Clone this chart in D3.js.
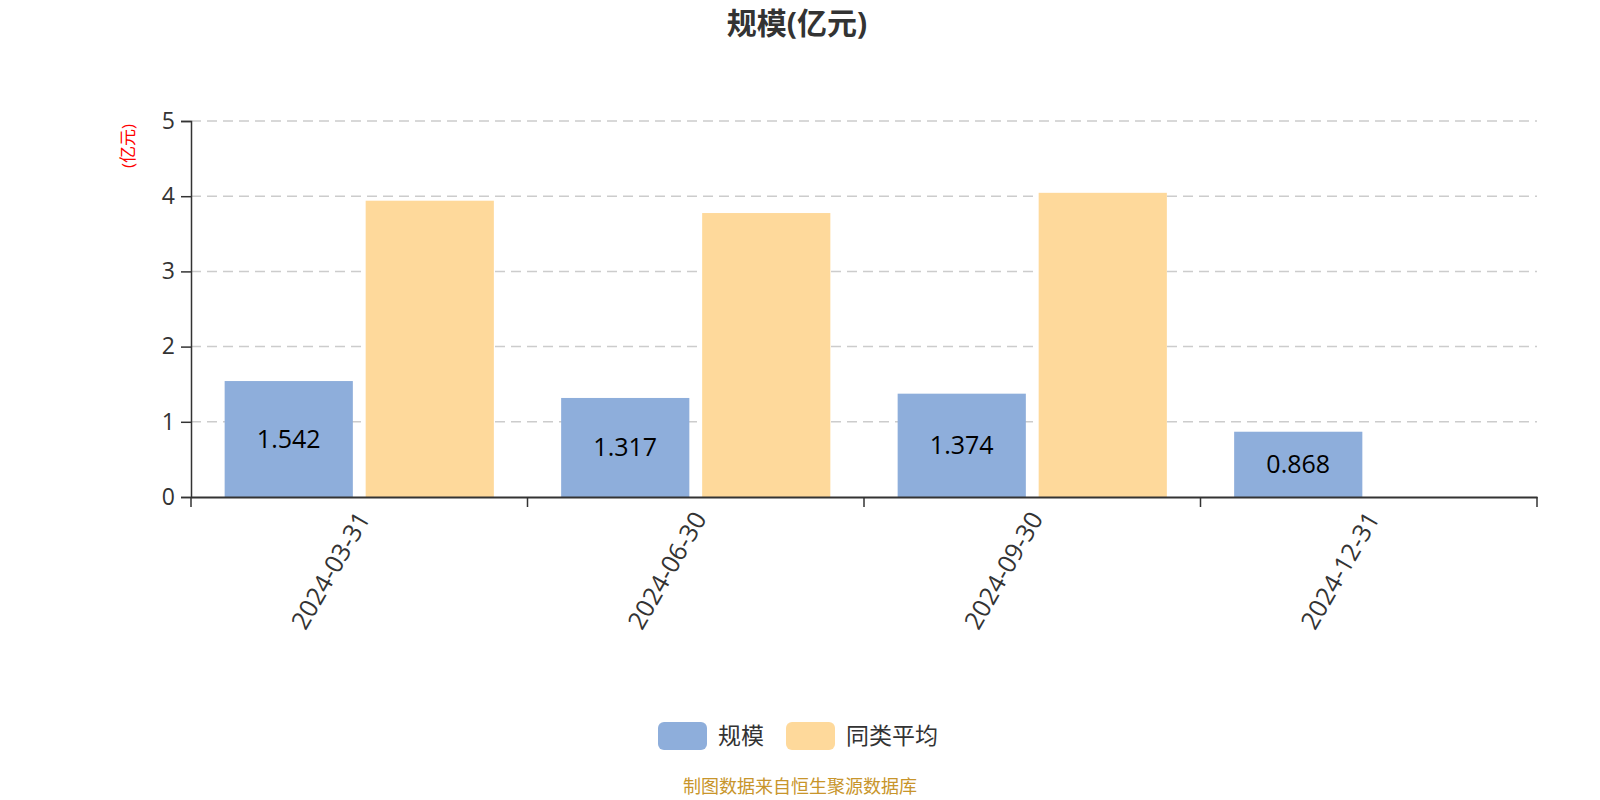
<!DOCTYPE html>
<html><head><meta charset="utf-8">
<script src="https://cdn.jsdelivr.net/npm/d3@7/dist/d3.min.js"></script>
<style>body{margin:0;background:#fff;}svg{display:block;font-family:"Open Sans","Noto Sans CJK SC",sans-serif;}</style>
</head><body><svg id="c" width="1600" height="800"></svg>
<script>
const categories = ["2024-03-31","2024-06-30","2024-09-30","2024-12-31"];
const seriesNames = ["规模","同类平均"];
const scaleValues = [1.542, 1.317, 1.374, 0.868];
const peerAvgValues = [3.94, 3.776, 4.045, null];
const yTicks = [0,1,2,3,4,5];
const colors = ["#8eaedb","#fed99b"];
const titleText = "规模(亿元)";
const yName = "(亿元)";
const footer = "制图数据来自恒生聚源数据库";

const svg = d3.select("#c");
const m = {l:191, r:1537, t:121, b:497};
const x = d3.scaleBand().domain(categories).range([m.l, m.r]).paddingInner(0).paddingOuter(0);
const y = d3.scaleLinear().domain([0,5]).range([m.b, m.t]);
// ECharts-like layout: 20% category gap, 10% bar gap
const bw = x.bandwidth();
const barW = (bw*0.8)/2.1;
const gapW = barW*0.1;
const off = bw*0.1;
const barX = (i,k)=> x(categories[i]) + off + k*(barW+gapW);

// title
svg.append("text").attr("x",797).attr("y",34).attr("text-anchor","middle")
  .attr("font-size",30).attr("font-weight","bold").attr("fill","#333").text(titleText);

// grid lines
svg.append("g").selectAll("line").data(yTicks.filter(d=>d>0)).join("line")
  .attr("x1",m.l).attr("x2",m.r).attr("y1",d=>y(d)).attr("y2",d=>y(d))
  .attr("stroke","#ccc").attr("stroke-width",1.5).attr("stroke-dasharray","10,6");

// bars
const data = [scaleValues, peerAvgValues];
data.forEach((vals,k)=>{
  svg.append("g").selectAll("rect").data(vals.map((v,i)=>({v,i})).filter(d=>d.v!=null)).join("rect")
    .attr("x",d=>barX(d.i,k)).attr("width",barW)
    .attr("y",d=>y(d.v)).attr("height",d=>y(0)-y(d.v))
    .attr("fill",colors[k]);
});
// labels for 规模
svg.append("g").selectAll("text").data(scaleValues.map((v,i)=>({v,i}))).join("text")
  .attr("x",d=>barX(d.i,0)+barW/2).attr("y",d=>(y(d.v)+y(0))/2)
  .attr("dy","0.35em").attr("text-anchor","middle").attr("font-size",25).attr("fill","#000")
  .text(d=>d.v.toFixed(3));

// y axis
const yAxis = svg.append("g").attr("transform",`translate(${m.l},0)`)
  .call(d3.axisLeft(y).tickValues(yTicks).tickSize(10).tickPadding(6).tickFormat(d3.format("d")));
yAxis.select(".domain").attr("stroke","#333").attr("stroke-width",1.5);
yAxis.selectAll(".tick line").attr("stroke","#333").attr("stroke-width",1.5);
yAxis.selectAll(".tick text").attr("font-size",23).attr("fill","#333").attr("font-family","Open Sans");

// x axis
const xAxis = svg.append("g").attr("transform",`translate(0,${m.b})`)
  .call(d3.axisBottom(x).tickSize(0).tickFormat(""));
xAxis.select(".domain").attr("stroke","#333").attr("stroke-width",2);
const bounds = categories.map(c=>x(c)).concat([m.r]);
svg.append("g").selectAll("line").data(bounds).join("line")
  .attr("x1",d=>d).attr("x2",d=>d).attr("y1",m.b).attr("y2",m.b+10)
  .attr("stroke","#333").attr("stroke-width",1.5);
svg.append("g").selectAll("text").data(categories).join("text")
  .attr("transform",d=>`translate(${x(d)+bw/2+4},${m.b+17}) rotate(-60)`)
  .attr("text-anchor","end").attr("dy","0.35em").attr("font-size",25).attr("fill","#333")
  .attr("font-family","Open Sans").text(d=>d);

// y axis name
svg.append("text").attr("transform","translate(128,146) rotate(-90)")
  .attr("text-anchor","middle").attr("dy","0.35em").attr("font-size",17).attr("fill","red").text(yName);

// legend
const legendX = [658, 786];
seriesNames.forEach((n,k)=>{
  svg.append("rect").attr("x",legendX[k]).attr("y",722).attr("width",49).attr("height",28)
    .attr("rx",6).attr("fill",colors[k]);
  svg.append("text").attr("x",legendX[k]+60).attr("y",736).attr("dy","0.35em")
    .attr("font-size",23).attr("fill","#333").text(n);
});

// footer
svg.append("text").attr("x",800).attr("y",787).attr("dy","0.35em").attr("text-anchor","middle")
  .attr("font-size",18).attr("fill","#c8952b").text(footer);
</script></body></html>
